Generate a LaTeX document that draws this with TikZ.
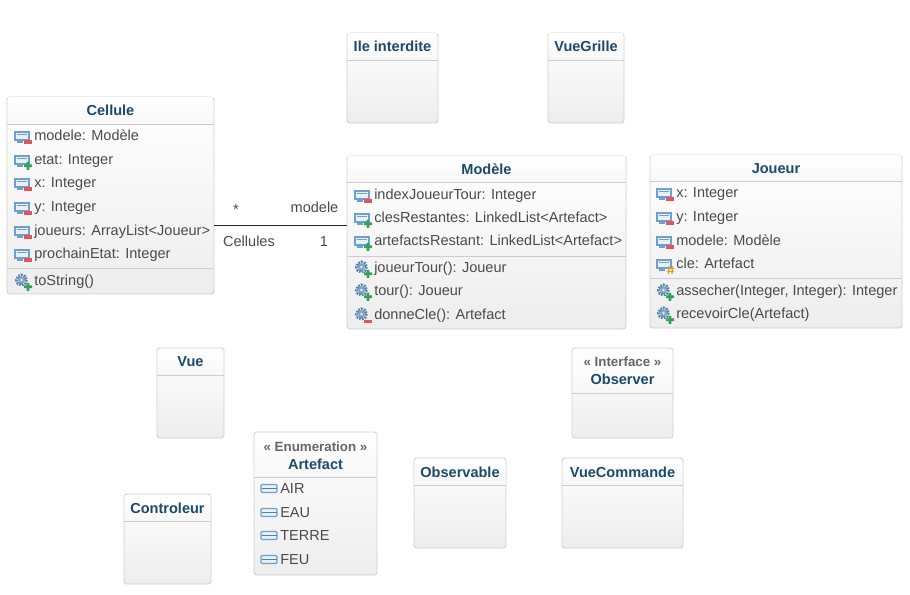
\documentclass[tikz,border=0pt]{standalone}
\usepackage{fontspec}
\setmainfont{Liberation Sans}
\usetikzlibrary{fit,calc}
\definecolor{titleblue}{HTML}{1B4A6B}
\definecolor{rowgrey}{HTML}{4A4A4A}
\definecolor{boxline}{HTML}{D0D0D0}
\definecolor{sepline}{HTML}{CDCDCD}
\definecolor{icoblue}{HTML}{6F9FCC}
\definecolor{icopale}{HTML}{E8F0F8}
\definecolor{gearblue}{HTML}{5684B0}
\definecolor{minusred}{HTML}{E2555A}
\definecolor{plusgreen}{HTML}{359F5C}
\definecolor{hashorange}{HTML}{E3A32B}
\tikzset{
  classbody/.style={draw=boxline,line width=0.7pt,rounded corners=2.2pt,inner sep=0pt,outer sep=0pt,
    top color=white,bottom color=black!7},
  titletext/.style={font=\fontsize{10.9}{12}\selectfont\bfseries,text=titleblue,inner sep=0pt,anchor=base,yshift=-3.8pt},
  stereotext/.style={font=\fontsize{10}{12}\selectfont\bfseries,text=black!60,inner sep=0pt,anchor=base,yshift=-3.6pt},
  rowtext/.style={font=\fontsize{10.9}{12}\selectfont,text=rowgrey,anchor=base west,inner sep=0pt,yshift=-4pt},
  assoctext/.style={font=\fontsize{10.9}{12}\selectfont,text=rowgrey,inner sep=0pt,anchor=base,yshift=-3.8pt},
}
% icons are drawn around the start of the row
\newcommand{\icoattr}{%
  \draw[icoblue,fill=icopale,line width=0.8pt] (0,-3) rectangle (14,5);
  \draw[icoblue,line width=0.8pt] (2,-0.5) -- (12,-0.5);
  \draw[icoblue,line width=0.8pt] (2,7) -- (8,7);
}
\newcommand{\icogear}{%
  \draw[gearblue,line width=2.2pt,dash pattern=on 1.3pt off 0.8pt] (6.5,0) circle [radius=5];
  \fill[gearblue!75] (6.5,0) circle [radius=3.4];
  \fill[icopale] (6.5,0) circle [radius=1.4];
}
\newcommand{\icominus}{\fill[minusred] (8.5,5.5) rectangle (17,9);}
\newcommand{\icoplus}{\fill[plusgreen] (9,5.4) rectangle (17,8.2) (11.6,2.8) rectangle (14.4,10.8);}
\newcommand{\icohash}{%
  \draw[hashorange,line width=0.9pt] (10,5.5) -- (17,5.5) (10,8.5) -- (17,8.5) (12,3) -- (11.5,11) (15.5,3) -- (15,11);
}
\newcommand{\icoenum}{%
  \draw[icoblue,fill=icopale,line width=0.9pt,rounded corners=1pt] (0,-3.5) rectangle (16,4.5);
  \draw[icoblue!80!black,line width=1pt] (0.5,0.5) -- (15.5,0.5);
}
% name, x1, y1, x2, y2, y of the title line
\newcommand{\classbox}[6]{%
  \node[classbody,fit={(#2,#3) (#4,#5)}] (#1) {};
  \shade[top color=white,bottom color=black!3] ($(#2,#3)+(0.8,1)$) rectangle ($(#4,#6)+(-0.8,0)$);
  \draw[sepline,line width=0.7pt] (#2,#6) -- (#4,#6);
}
% name, x of icon, list of y/kind/badge/text
\newcommand{\classrows}[3]{%
  \foreach \rowy/\rowkind/\rowbadge/\rowlabel [count=\rowi] in {#3} {
    \begin{scope}[shift={(#2,\rowy)}]
      \csname ico\rowkind\endcsname
      \csname ico\rowbadge\endcsname
    \end{scope}
    \node[rowtext] (#1row\rowi) at ($(#2,\rowy)+(19,0)$) {\rowlabel};
  }
}
\begin{document}
\begin{tikzpicture}[x=0.75pt,y=-0.75pt]
  \useasboundingbox (0,0) rectangle (910,595);
  \fill[white] (0,0) rectangle (910,595);

  \classbox{ile}{347}{33}{438}{123}{60}
  \node[titletext] (iletitle) at (392.5,46) {Ile interdite};
  \classbox{vuegrille}{548}{33}{624}{123}{60}
  \node[titletext] (vuegrilletitle) at (586,46) {VueGrille};

  \classbox{cellule}{7}{97}{214}{294}{124}
  \node[titletext] (celluletitle) at (110.5,110.5) {Cellule};
  \draw[sepline,line width=0.7pt] (7,268) -- (214,268);
  \classrows{cellule}{15}{
    135/attr/minus/{modele: Modèle},
    159/attr/plus/{etat: Integer},
    182/attr/minus/{x: Integer},
    206/attr/minus/{y: Integer},
    230/attr/minus/{joueurs: ArrayList<Joueur>},
    253/attr/minus/{prochainEtat: Integer},
    280/gear/plus/{toString()}}

  \classbox{modele}{347}{156}{626}{329}{182}
  \node[titletext] (modeletitle) at (486.5,169) {Modèle};
  \draw[sepline,line width=0.7pt] (347,256) -- (626,256);
  \classrows{modele}{355}{
    194/attr/minus/{indexJoueurTour: Integer},
    217/attr/plus/{clesRestantes: LinkedList<Artefact>},
    240/attr/plus/{artefactsRestant: LinkedList<Artefact>},
    267/gear/plus/{joueurTour(): Joueur},
    290/gear/plus/{tour(): Joueur},
    314/gear/minus/{donneCle(): Artefact}}

  \classbox{joueur}{650}{155}{902}{328}{181}
  \node[titletext] (joueurtitle) at (776,168) {Joueur};
  \draw[sepline,line width=0.7pt] (650,278) -- (902,278);
  \classrows{joueur}{657}{
    192/attr/minus/{x: Integer},
    216/attr/minus/{y: Integer},
    240/attr/minus/{modele: Modèle},
    263/attr/hash/{cle: Artefact},
    290/gear/plus/{assecher(Integer, Integer): Integer},
    313/gear/plus/{recevoirCle(Artefact)}}

  \classbox{vue}{157}{348}{224}{438}{375}
  \node[titletext] (vuetitle) at (190.5,361.5) {Vue};
  \classbox{observer}{572}{348}{673}{438}{393}
  \node[stereotext] (observerstereo) at (622.5,361.5) {« Interface »};
  \node[titletext] (observertitle) at (622.5,379.5) {Observer};

  \classbox{artefact}{254}{432}{377}{575}{477}
  \node[stereotext] (artefactstereo) at (315.5,446.5) {« Enumeration »};
  \node[titletext] (artefacttitle) at (315.5,464) {Artefact};
  \foreach \rowy/\rowlabel [count=\rowi] in {488/AIR,512/EAU,535/TERRE,559/FEU} {
    \begin{scope}[shift={(261,\rowy)}]
      \icoenum
    \end{scope}
    \node[rowtext] (artefactrow\rowi) at (280,\rowy) {\rowlabel};
  }

  \classbox{observable}{414}{458}{506}{548}{485}
  \node[titletext] (observabletitle) at (460,472) {Observable};
  \classbox{vuecommande}{562}{458}{683}{548}{485}
  \node[titletext] (vuecommandetitle) at (622.5,472) {VueCommande};
  \classbox{controleur}{124}{494}{211}{584}{521}
  \node[titletext] (controleurtitle) at (167.5,508) {Controleur};

  % association
  \coordinate (assoc) at (280,225);
  \draw[black!85,line width=0.7pt] (cellule.east |- assoc) -- (modele.west |- assoc);
  \node[assoctext] (cellulemult) at (236,209) {*};
  \node[assoctext] (modelerole) at (314.5,207) {modele};
  \node[assoctext] (cellulerole) at (249,241) {Cellules};
  \node[assoctext] (modelemult) at (324,241) {1};
\end{tikzpicture}
\end{document}
